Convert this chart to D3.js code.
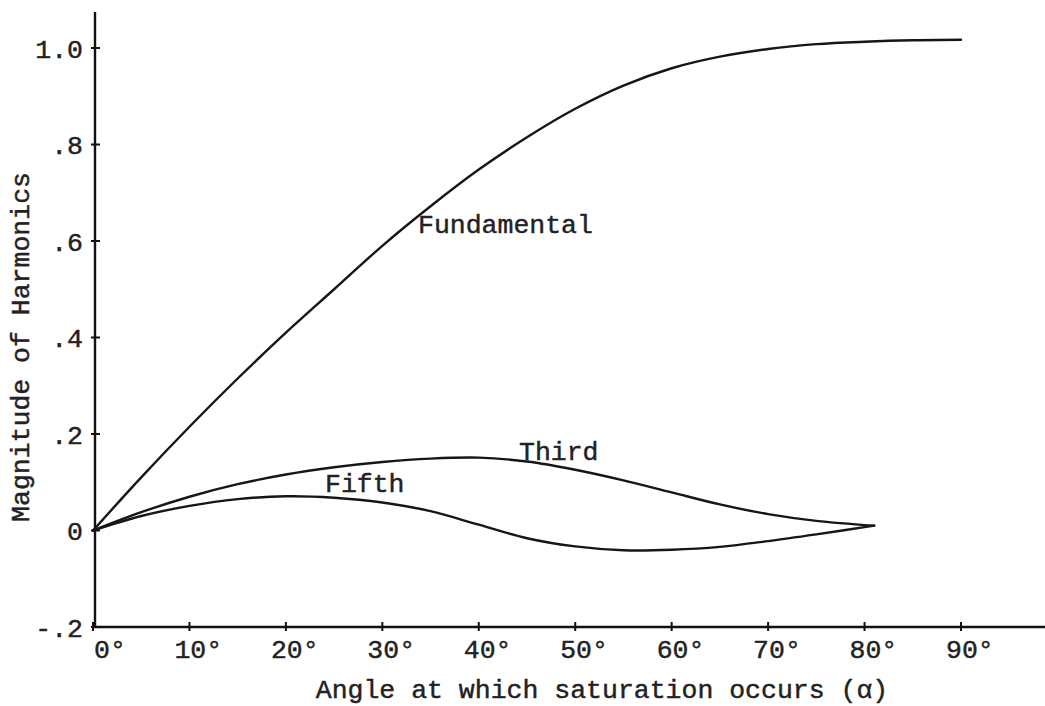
<!DOCTYPE html>
<html>
<head>
<meta charset="utf-8">
<script src="https://cdn.jsdelivr.net/npm/d3@7.9.0/dist/d3.min.js"></script>
<style>
  body { margin: 0; background: #fff; }
  svg text { font-family: "Liberation Mono", "DejaVu Sans Mono", monospace; fill: #222; stroke: #222; stroke-width: 0.45px; }
</style>
</head>
<body>
<svg id="chart" width="1045" height="706"></svg>
<script>
// values
let xTicks = [0, 10, 20, 30, 40, 50, 60, 70, 80, 90];
let yTicks = [-0.2, 0, 0.2, 0.4, 0.6, 0.8, 1.0];
let yTickLabels = ['-.2', '0', '.2', '.4', '.6', '.8', '1.0'];

let fundAngles = [0, 5, 10, 15, 20, 25, 30, 35, 40, 45, 50, 55, 60, 65, 70, 75, 80, 85, 90];
let fundValues = [0, 0.11, 0.215, 0.315, 0.41, 0.5, 0.59, 0.672, 0.748, 0.815, 0.874, 0.922, 0.958, 0.982, 0.998, 1.008, 1.013, 1.016, 1.017];

let harmAngles = [0, 5, 10, 15, 20, 25, 30, 35, 40, 45, 50, 55, 60, 65, 70, 75, 81];
let thirdValues = [0, 0.038, 0.07, 0.096, 0.116, 0.131, 0.142, 0.149, 0.151, 0.143, 0.126, 0.104, 0.079, 0.054, 0.034, 0.02, 0.01];
let fifthValues = [0, 0.03, 0.051, 0.065, 0.071, 0.068, 0.058, 0.04, 0.012, -0.016, -0.033, -0.041, -0.04, -0.034, -0.022, -0.008, 0.01];

const svg = d3.select('#chart');

let x = d3.scaleLinear().domain([0, 90]).range([93, 961]);
let y = d3.scaleLinear().domain([-0.2, 1.0]).range([627, 48]);

// axes (hand drawn look: crossing ticks)
svg.append('line')
  .attr('x1', 95).attr('x2', 95).attr('y1', 12).attr('y2', 628)
  .attr('stroke', '#111').attr('stroke-width', 2.4);
svg.append('line')
  .attr('x1', 93).attr('x2', 1045).attr('y1', y(-0.2)).attr('y2', y(-0.2))
  .attr('stroke', '#111').attr('stroke-width', 2.4);

svg.selectAll('.ytick')
  .data(yTicks)
  .join('line')
  .attr('class', 'ytick')
  .attr('x1', 91).attr('x2', 100)
  .attr('y1', d => y(d)).attr('y2', d => y(d))
  .attr('stroke', '#111').attr('stroke-width', 2);

svg.selectAll('.xtick')
  .data(xTicks)
  .join('line')
  .attr('class', 'xtick')
  .attr('x1', d => x(d)).attr('x2', d => x(d))
  .attr('y1', y(-0.2) - 5).attr('y2', y(-0.2) + 4)
  .attr('stroke', '#111').attr('stroke-width', 2);

svg.selectAll('.ylabel')
  .data(yTicks)
  .join('text')
  .attr('class', 'ylabel')
  .attr('x', 83)
  .attr('y', d => y(d))
  .attr('dy', '0.36em')
  .attr('text-anchor', 'end')
  .attr('font-size', 26.5)
  .text((d, i) => yTickLabels[i]);

// typewriter: last digit starts at the tick
svg.selectAll('.xlabel')
  .data(xTicks)
  .join('text')
  .attr('class', 'xlabel')
  .attr('x', d => x(d) + 1 - 16 * (String(d).length - 1))
  .attr('y', 658)
  .attr('font-size', 26.5)
  .text(d => d + '°');

svg.append('text')
  .attr('x', 602).attr('y', 698)
  .attr('text-anchor', 'middle')
  .attr('font-size', 26.5)
  .text('Angle at which saturation occurs (α)');

svg.append('text')
  .attr('transform', 'translate(29,347) rotate(-90)')
  .attr('text-anchor', 'middle')
  .attr('font-size', 26.5)
  .text('Magnitude of Harmonics');

// curves
let line = d3.line()
  .x(d => x(d[0]))
  .y(d => y(d[1]))
  .curve(d3.curveCatmullRom.alpha(0.5));

let series = [
  { name: 'Fundamental', angles: fundAngles, values: fundValues },
  { name: 'Third', angles: harmAngles, values: thirdValues },
  { name: 'Fifth', angles: harmAngles, values: fifthValues }
];

series.forEach(s => {
  svg.append('path')
    .attr('d', line(s.angles.map((a, i) => [a, s.values[i]])))
    .attr('fill', 'none')
    .attr('stroke', '#161616')
    .attr('stroke-width', 2.4)
    .attr('stroke-linecap', 'round');
});

svg.append('text').attr('x', 418).attr('y', 233).attr('font-size', 26.5).text('Fundamental');
svg.append('text').attr('x', 519).attr('y', 460).attr('font-size', 26.5).text('Third');
svg.append('text').attr('x', 325).attr('y', 492).attr('font-size', 26.5).text('Fifth');
</script>
</body>
</html>
